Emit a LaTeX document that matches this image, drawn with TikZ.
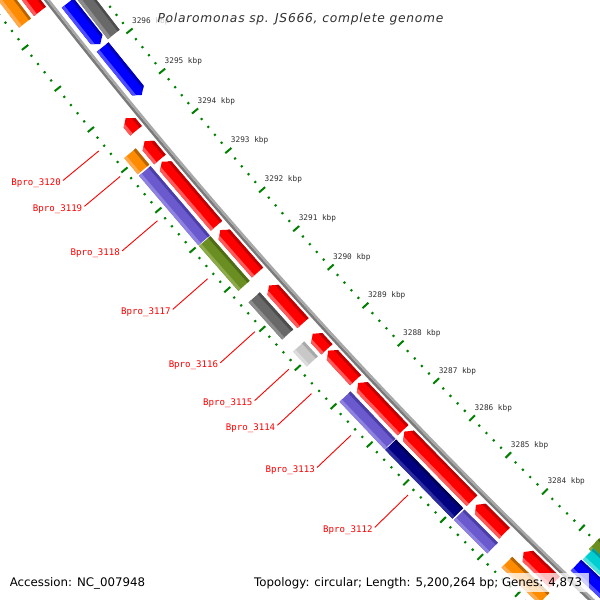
\documentclass[tikz,border=0pt]{standalone}
\usepackage{fontspec}
\setmainfont{DejaVu Sans}
\newfontfamily\monofont{DejaVu Sans Mono}
\newfontfamily\titlefont[LetterSpace=6]{DejaVu Sans}
\definecolor{tickgreen}{HTML}{008000}
\definecolor{labgrey}{HTML}{303030}
\definecolor{bblight}{HTML}{A8A8A8}
\definecolor{bbdark}{HTML}{7A7A7A}
\definecolor{fred}{HTML}{FF0000}\definecolor{fredL}{HTML}{FF5A5A}\definecolor{fredD}{HTML}{C00000}
\definecolor{forange}{HTML}{FF8C00}\definecolor{forangeL}{HTML}{FFA94D}\definecolor{forangeD}{HTML}{B86400}
\definecolor{fpurple}{HTML}{6A5ACD}\definecolor{fpurpleL}{HTML}{8E82E0}\definecolor{fpurpleD}{HTML}{4B3EA6}
\definecolor{folive}{HTML}{6B8E23}\definecolor{foliveL}{HTML}{8DAA4B}\definecolor{foliveD}{HTML}{4F6B16}
\definecolor{fgrey}{HTML}{696969}\definecolor{fgreyL}{HTML}{8C8C8C}\definecolor{fgreyD}{HTML}{4D4D4D}
\definecolor{fsilver}{HTML}{C8C8C8}\definecolor{fsilverL}{HTML}{DCDCDC}\definecolor{fsilverD}{HTML}{A8A8A8}
\definecolor{fnavy}{HTML}{000080}\definecolor{fnavyL}{HTML}{2B2BA0}\definecolor{fnavyD}{HTML}{000058}
\definecolor{fblue}{HTML}{0000FF}\definecolor{fblueL}{HTML}{4D4DFF}\definecolor{fblueD}{HTML}{0000B8}
\definecolor{fcyan}{HTML}{00CED1}\definecolor{fcyanL}{HTML}{4DE0E0}\definecolor{fcyanD}{HTML}{009A9C}

\def\Cx{4362}
\def\Cy{-3369}
\def\hd{0.0627}
\newcommand\xyset[2]{%
  \edef\tmpx{\fpeval{round(\Cx+(#2)*cosd(#1),3)}}%
  \edef\tmpy{\fpeval{round(\Cy+(#2)*sind(#1),3)}}}
\newcommand\pp[3]{\xyset{#2}{#3}\coordinate (#1) at (\tmpx,\tmpy);}
\newcommand\radial[4]{\xyset{#1}{#2}\let\ax\tmpx\let\ay\tmpy\xyset{#1}{#3}%
  \draw[#4] (\ax,\ay)--(\tmpx,\tmpy);}
\newcommand\feature[5]{%
  \edef\ri{\fpeval{#3-7.5}}\edef\ro{\fpeval{#3+7.5}}%
  \ifnum#4=1 \edef\fah{\fpeval{#1-\hd}}\else\edef\fah{#1}\fi
  \ifnum#4=2 \edef\fbh{\fpeval{#2+\hd}}\else\edef\fbh{#2}\fi
  \pp{fAt}{#1}{#3}\pp{fAo}{\fah}{\ro}\pp{fAi}{\fah}{\ri}%
  \pp{fBt}{#2}{#3}\pp{fBo}{\fbh}{\ro}\pp{fBi}{\fbh}{\ri}%
  \edef\fae{\fpeval{#1+0.3}}\edef\fbe{\fpeval{#2-0.3}}%
  \pp{fLa}{\fae}{#3+4.5}\pp{fLb}{\fae}{#3+10}\pp{fLc}{\fbe}{#3+10}\pp{fLd}{\fbe}{#3+4.5}%
  \pp{fDa}{\fae}{#3-4.5}\pp{fDb}{\fae}{#3-10}\pp{fDc}{\fbe}{#3-10}\pp{fDd}{\fbe}{#3-4.5}%
  \fill[#5] (fAt)--(fAo)--(fBo)--(fBt)--(fBi)--(fAi)--cycle;
  \begin{scope}
    \clip (fAt)--(fAo)--(fBo)--(fBt)--(fBi)--(fAi)--cycle;
    \fill[#5L] (fLa)--(fLb)--(fLc)--(fLd)--cycle;
    \fill[#5D] (fDa)--(fDb)--(fDc)--(fDd)--cycle;
  \end{scope}}
\newcommand\genelabel[2]{%
  \xyset{#1}{5528.5}\coordinate (g#2e) at (\tmpx,\tmpy);
  \xyset{#1}{5575}\coordinate (g#2s) at (\tmpx,\tmpy);
  \node[genelab] (g#2) at ([shift={(-2,4.8)}]g#2s) {Bpro\_#2};
  \draw[leader] (g#2s) -- (g#2e);}

\begin{document}
\begin{tikzpicture}[x=1pt,y=-1pt,
  tick/.style={draw=tickgreen,line width=2pt},
  ticklab/.style={anchor=base west,inner sep=0pt,text=labgrey,font=\monofont\fontsize{7.74}{9}\selectfont},
  genelab/.style={anchor=base east,inner sep=0pt,text=red,font=\monofont\fontsize{9.1}{11}\selectfont},
  leader/.style={draw=red,line width=0.9pt},
  whitebox/.style={fill=white,fill opacity=0.75,text opacity=1,inner xsep=7pt,inner ysep=4pt}]
\useasboundingbox (0,0) rectangle (600,600);
\fill[white] (0,0) rectangle (600,600);
\begin{scope}
\clip (0,0) rectangle (600,600);
% ruler ticks
\foreach \k in {3281,...,3299}{%
  \edef\ph{\fpeval{137.95+(\k-3290)*0.5458}}%
  \radial{\ph}{5425}{5433}{tick}%
  \radial{\ph}{5517}{5525}{tick}%
  \foreach \m in {1,2,3,4}{%
    \edef\phm{\fpeval{\ph+\m*0.10916}}%
    \radial{\phm}{5428}{5430.2}{tick}%
    \radial{\phm}{5520}{5522.2}{tick}}}
% backbone
\foreach \j in {0,...,48}{%
  \edef\ph{\fpeval{132+\j*0.25}}%
  \xyset{\ph}{5475.7}%
  \ifnum\j=0 \xdef\bbA{(\tmpx,\tmpy)}\else\xdef\bbA{\bbA--(\tmpx,\tmpy)}\fi
  \xyset{\ph}{5473.2}%
  \ifnum\j=0 \xdef\bbB{(\tmpx,\tmpy)}\else\xdef\bbB{\bbB--(\tmpx,\tmpy)}\fi}
\edef\tmpcmd{\noexpand\draw[line width=2.6pt,bbdark] \bbA;}\tmpcmd
\edef\tmpcmd{\noexpand\draw[line width=2.4pt,bblight] \bbB;}\tmpcmd
% outer rows
\feature{143.5}{141.30}{5443.5}{0}{fgrey}
\feature{133.92}{132.5}{5432}{0}{folive}
\feature{133.89}{132.5}{5443.5}{0}{fcyan}
\feature{141.86}{141.31}{5460}{2}{fblue}
\feature{141.27}{140.62}{5460}{2}{fblue}
\feature{133.90}{132.5}{5460}{0}{fblue}
% inner row 1
\feature{143.5}{141.97}{5487}{1}{fred}
\feature{140.54}{140.37}{5487}{1}{fred}
\feature{140.23}{139.98}{5487}{1}{fred}
\feature{139.95}{139.07}{5487}{1}{fred}
\feature{139.01}{138.42}{5487}{1}{fred}
\feature{138.24}{137.71}{5487}{1}{fred}
\feature{137.56}{137.34}{5487}{1}{fred}
\feature{137.32}{136.90}{5487}{1}{fred}
\feature{136.86}{136.18}{5487}{1}{fred}
\feature{136.16}{135.15}{5487}{1}{fred}
\feature{135.09}{134.67}{5487}{1}{fred}
\feature{134.39}{133.94}{5487}{1}{fred}
% inner row 2
\feature{143.5}{141.97}{5506}{0}{forange}
\feature{140.23}{140.01}{5506}{0}{forange}
\feature{139.99}{139.04}{5506}{0}{fpurple}
\feature{139.03}{138.41}{5506}{0}{folive}
\feature{138.25}{137.73}{5506}{0}{fgrey}
\feature{137.56}{137.35}{5506}{0}{fsilver}
\feature{136.85}{136.17}{5506}{0}{fpurple}
\feature{136.16}{135.16}{5506}{0}{fnavy}
\feature{135.14}{134.65}{5506}{0}{fpurple}
\feature{134.44}{133.90}{5506}{0}{forange}
\end{scope}
% tick labels
\foreach \k in {3284,...,3296}{%
  \edef\ph{\fpeval{137.95+(\k-3290)*0.5458}}%
  \xyset{\ph}{5429}%
  \node[ticklab] (k\k) at ({\tmpx+2.4},{\tmpy-7.8}) {\k\ kbp};}
% gene labels
\genelabel{140.455}{3120}
\genelabel{140.11}{3119}
\genelabel{139.51}{3118}
\genelabel{138.715}{3117}
\genelabel{137.98}{3116}
\genelabel{137.455}{3115}
\genelabel{137.11}{3114}
\genelabel{136.515}{3113}
\genelabel{135.66}{3112}
% title and footer
\node[whitebox,anchor=base,text=labgrey,font=\titlefont\itshape\fontsize{12.3}{14}\selectfont] (title) at (300.5,22) {Polaromonas sp. JS666, complete genome};
\node[whitebox,anchor=base west,inner xsep=0pt,font=\fontsize{11.8}{14}\selectfont] (acc) at (9.6,586) {Accession: NC\_007948};
\node[whitebox,anchor=base east,font=\fontsize{11.8}{14}\selectfont] (topo) at (589.3,586) {Topology: circular; Length: 5,200,264 bp; Genes: 4,873};
\end{tikzpicture}
\end{document}
